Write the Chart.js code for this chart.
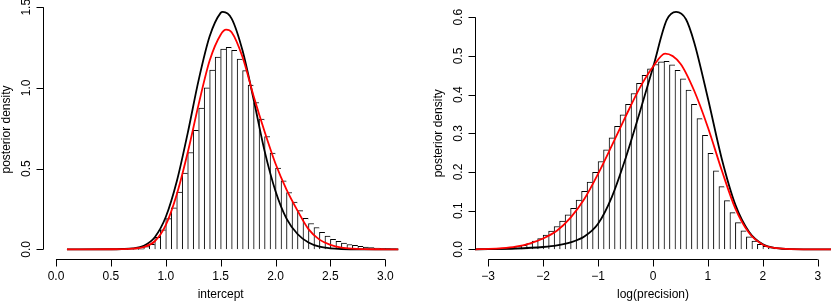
<!DOCTYPE html>
<html>
<head>
<meta charset="utf-8">
<script src="https://cdn.jsdelivr.net/npm/chart.js@4"></script>
<style>
  body { margin: 0; background: #fff; }
  #wrap { position: relative; width: 831px; height: 302px; }
  canvas { position: absolute; top: 0; }
</style>
</head>
<body>
<div id="wrap">
  <canvas id="left" width="420" height="302" style="left:0"></canvas>
  <canvas id="right" width="411" height="302" style="left:420px"></canvas>
</div>
<script>
// ---- left panel: intercept ----
const interceptBinWidth = 0.05;
const interceptBins = [0.60, 0.65, 0.70, 0.75, 0.80, 0.85, 0.90, 0.95, 1.00, 1.05,
  1.10, 1.15, 1.20, 1.25, 1.30, 1.35, 1.40, 1.45, 1.50, 1.55,
  1.60, 1.65, 1.70, 1.75, 1.80, 1.85, 1.90, 1.95, 2.00, 2.05,
  2.10, 2.15, 2.20, 2.25, 2.30, 2.35, 2.40, 2.45, 2.50, 2.55,
  2.60, 2.65, 2.70, 2.75, 2.80, 2.85, 2.90, 2.95, 3.00, 3.05, 3.10];
const interceptHist = [0.002, 0.003, 0.006, 0.010, 0.017, 0.031, 0.074, 0.120, 0.190, 0.257,
  0.354, 0.472, 0.600, 0.737, 0.875, 1.001, 1.111, 1.192, 1.241, 1.252,
  1.233, 1.179, 1.107, 1.018, 0.910, 0.807, 0.699, 0.596, 0.503, 0.424,
  0.352, 0.292, 0.240, 0.192, 0.160, 0.135, 0.106, 0.082, 0.062, 0.050,
  0.039, 0.030, 0.024, 0.018, 0.014, 0.011, 0.008, 0.006, 0.004, 0.003, 0.002];

const interceptBlackX = [0.10, 0.50, 0.60, 0.70, 0.80, 0.90, 1.00, 1.10, 1.20, 1.30, 1.40, 1.50, 1.52,
  1.60, 1.70, 1.80, 1.90, 2.00, 2.10, 2.20, 2.30, 2.40, 2.50, 2.60, 2.80, 3.12];
const interceptBlackY = [0, 0.0005, 0.002, 0.006, 0.022, 0.075, 0.20, 0.42, 0.72, 1.05, 1.32, 1.465, 1.471,
  1.43, 1.23, 0.93, 0.61, 0.36, 0.19, 0.095, 0.042, 0.016, 0.006, 0.002, 0.0002, 0];

const interceptRedX = [0.10, 0.50, 0.60, 0.70, 0.80, 0.90, 1.00, 1.10, 1.20, 1.30, 1.40, 1.50, 1.55,
  1.60, 1.70, 1.80, 1.90, 2.00, 2.10, 2.20, 2.30, 2.40, 2.50, 2.60, 2.70, 2.80, 3.00, 3.12];
const interceptRedY = [0, 0.0003, 0.001, 0.004, 0.014, 0.05, 0.15, 0.34, 0.60, 0.90, 1.17, 1.33, 1.361,
  1.345, 1.19, 0.95, 0.73, 0.53, 0.37, 0.24, 0.125, 0.06, 0.028, 0.011, 0.004, 0.0015, 0.0002, 0];

const interceptXTicks = [0, 0.5, 1, 1.5, 2, 2.5, 3];
const interceptXLabels = ["0.0", "0.5", "1.0", "1.5", "2.0", "2.5", "3.0"];
const interceptYTicks = [0, 0.5, 1, 1.5];
const interceptYLabels = ["0.0", "0.5", "1.0", "1.5"];

// ---- right panel: log(precision) ----
const precBinWidth = 0.1;
const precBins = [-3.0, -2.9, -2.8, -2.7, -2.6, -2.5, -2.4, -2.3, -2.2, -2.1,
  -2.0, -1.9, -1.8, -1.7, -1.6, -1.5, -1.4, -1.3, -1.2, -1.1,
  -1.0, -0.9, -0.8, -0.7, -0.6, -0.5, -0.4, -0.3, -0.2, -0.1,
  0.0, 0.1, 0.2, 0.3, 0.4, 0.5, 0.6, 0.7, 0.8, 0.9,
  1.0, 1.1, 1.2, 1.3, 1.4, 1.5, 1.6, 1.7, 1.8, 1.9,
  2.0, 2.1, 2.2, 2.3, 2.4, 2.5];
const precHist = [0.0008, 0.001, 0.002, 0.003, 0.005, 0.007, 0.010, 0.015, 0.021, 0.028,
  0.037, 0.047, 0.059, 0.073, 0.089, 0.106, 0.127, 0.150, 0.174, 0.199,
  0.227, 0.257, 0.288, 0.318, 0.348, 0.375, 0.403, 0.429, 0.450, 0.467,
  0.478, 0.485, 0.486, 0.477, 0.463, 0.441, 0.412, 0.375, 0.338, 0.295,
  0.248, 0.203, 0.162, 0.126, 0.095, 0.069, 0.048, 0.032, 0.021, 0.013,
  0.008, 0.004, 0.0026, 0.0013, 0.0008, 0.0004];

const precBlackX = [-3.24, -3.0, -2.5, -2.0, -1.75, -1.5, -1.25, -1.0, -0.75, -0.5, -0.25, 0, 0.25, 0.42,
  0.6, 0.75, 1.0, 1.25, 1.5, 1.75, 2.0, 2.25, 2.5, 3.24];
const precBlackY = [0, 0.0005, 0.002, 0.006, 0.010, 0.018, 0.033, 0.066, 0.135, 0.235, 0.35, 0.47, 0.593, 0.614,
  0.595, 0.535, 0.39, 0.235, 0.115, 0.045, 0.013, 0.003, 0.0006, 0];

const precRedX = [-3.24, -3.0, -2.75, -2.5, -2.25, -2.0, -1.75, -1.5, -1.25, -1.0, -0.75, -0.5, -0.25, 0, 0.22,
  0.5, 0.75, 1.0, 1.25, 1.5, 1.75, 2.0, 2.25, 2.5, 3.24];
const precRedY = [0, 0.001, 0.003, 0.007, 0.015, 0.028, 0.048, 0.082, 0.13, 0.195, 0.268, 0.343, 0.415, 0.472, 0.506,
  0.48, 0.41, 0.315, 0.205, 0.105, 0.042, 0.012, 0.003, 0.0007, 0];

const precXTicks = [-3, -2, -1, 0, 1, 2, 3];
const precXLabels = ["\u22123", "\u22122", "\u22121", "0", "1", "2", "3"];
const precYTicks = [0, 0.1, 0.2, 0.3, 0.4, 0.5, 0.6];
const precYLabels = ["0.0", "0.1", "0.2", "0.3", "0.4", "0.5", "0.6"];

const FONT = '12px "Liberation Sans", Arial, Helvetica, sans-serif';

function toPoints(xs, ys) {
    return xs.map((x, i) => ({ x: x, y: ys[i] }));
}

function binPoints(edges, width, heights) {
    return edges.map((e, i) => ({ x: e + width / 2, y: heights[i] }));
}

// R style axes: line only between first and last tick, outward ticks
function rAxes(cfg) {
    return {
        id: "rAxes",
        afterDraw(chart) {
            const ctx = chart.ctx;
            const xs = chart.scales.x, ys = chart.scales.y, area = chart.chartArea;
            ctx.save();
            ctx.strokeStyle = "#000";
            ctx.fillStyle = "#000";
            ctx.lineWidth = 1;
            ctx.font = FONT;

            const yb = Math.round(area.bottom) + 0.5;
            const xa = xs.getPixelForValue(cfg.xTicks[0]);
            const xb = xs.getPixelForValue(cfg.xTicks[cfg.xTicks.length - 1]);
            ctx.beginPath();
            ctx.moveTo(xa, yb);
            ctx.lineTo(xb, yb);
            cfg.xTicks.forEach(v => {
                const p = Math.round(xs.getPixelForValue(v)) + 0.5;
                ctx.moveTo(p, yb);
                ctx.lineTo(p, yb + 7);
            });

            const xl = Math.round(area.left) + 0.5;
            const ya = ys.getPixelForValue(cfg.yTicks[0]);
            const yt = ys.getPixelForValue(cfg.yTicks[cfg.yTicks.length - 1]);
            ctx.moveTo(xl, ya);
            ctx.lineTo(xl, yt);
            cfg.yTicks.forEach(v => {
                const p = Math.round(ys.getPixelForValue(v)) + 0.5;
                ctx.moveTo(xl, p);
                ctx.lineTo(xl - 7, p);
            });
            ctx.stroke();

            ctx.textAlign = "center";
            ctx.textBaseline = "middle";
            cfg.xTicks.forEach((v, i) => {
                ctx.fillText(cfg.xLabels[i], xs.getPixelForValue(v), area.bottom + 18);
            });
            ctx.fillText(cfg.xTitle, (area.left + area.right) / 2, area.bottom + 36);

            cfg.yTicks.forEach((v, i) => {
                ctx.save();
                ctx.translate(area.left - 16, ys.getPixelForValue(v));
                ctx.rotate(-Math.PI / 2);
                ctx.fillText(cfg.yLabels[i], 0, 0);
                ctx.restore();
            });
            ctx.save();
            ctx.translate(area.left - 36, (area.top + area.bottom) / 2);
            ctx.rotate(-Math.PI / 2);
            ctx.fillText(cfg.yTitle, 0, 0);
            ctx.restore();
            ctx.restore();
        }
    };
}

function makeChart(id, hist, black, red, xr, yr, pad, axes) {
    return new Chart(document.getElementById(id), {
        type: "bar",
        data: {
            datasets: [
                {
                    type: "line",
                    data: red,
                    borderColor: "#ff0000",
                    borderWidth: 1.8,
                    pointRadius: 0,
                    cubicInterpolationMode: "monotone",
                    order: 1
                },
                {
                    type: "line",
                    data: black,
                    borderColor: "#000000",
                    borderWidth: 1.8,
                    pointRadius: 0,
                    cubicInterpolationMode: "monotone",
                    order: 2
                },
                {
                    type: "bar",
                    data: hist,
                    backgroundColor: "#ffffff",
                    borderColor: "#000000",
                    borderWidth: { top: 1, left: 1, right: 0, bottom: 0 },
                    borderSkipped: false,
                    barPercentage: 1,
                    categoryPercentage: 1,
                    order: 3
                }
            ]
        },
        options: {
            responsive: false,
            animation: false,
            events: [],
            layout: { padding: pad },
            plugins: { legend: { display: false }, tooltip: { enabled: false } },
            scales: {
                x: { type: "linear", min: xr[0], max: xr[1], offset: false, display: false },
                y: { type: "linear", min: yr[0], max: yr[1], display: false }
            }
        },
        plugins: [rAxes(axes)]
    });
}

makeChart("left",
    binPoints(interceptBins, interceptBinWidth, interceptHist),
    toPoints(interceptBlackX, interceptBlackY),
    toPoints(interceptRedX, interceptRedY),
    [-0.12, 3.12], [-0.06, 1.545],
    { left: 42.8, right: 21.5, top: 0, bottom: 43 },
    { xTicks: interceptXTicks, xLabels: interceptXLabels, yTicks: interceptYTicks, yLabels: interceptYLabels,
      xTitle: "intercept", yTitle: "posterior density" });

makeChart("right",
    binPoints(precBins, precBinWidth, precHist),
    toPoints(precBlackX, precBlackY),
    toPoints(precRedX, precRedY),
    [-3.24, 3.24], [-0.024, 0.624],
    { left: 55, right: 0, top: 8, bottom: 43.4 },
    { xTicks: precXTicks, xLabels: precXLabels, yTicks: precYTicks, yLabels: precYLabels,
      xTitle: "log(precision)", yTitle: "posterior density" });
</script>
</body>
</html>
